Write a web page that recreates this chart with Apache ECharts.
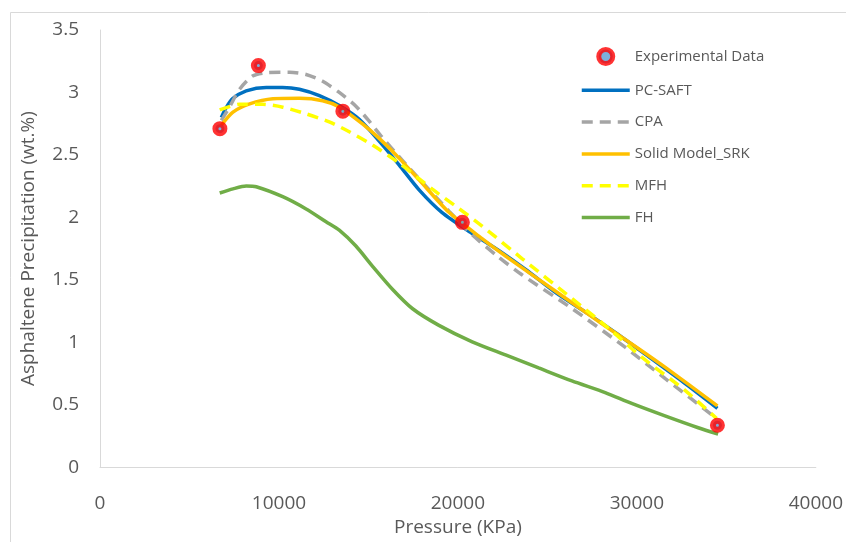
<!DOCTYPE html>
<html>
<head>
<meta charset="utf-8">
<script src="https://cdn.jsdelivr.net/npm/echarts@6/dist/echarts.min.js"></script>
<style>
  html, body { margin: 0; padding: 0; background: #fff; }
  #chart { width: 846px; height: 542px; }
</style>
</head>
<body>
<div id="chart"></div>
<script>
// Pressure (kPa) / asphaltene precipitation (wt.%) pairs
const experimental = [[6700, 2.71], [8850, 3.215], [13570, 2.85], [20250, 1.96], [34500, 0.335]];

const pcSaft = [[6780, 2.80], [7060, 2.88], [7410, 2.95], [8170, 3.013], [9290, 3.04], [10200, 3.04],
  [11140, 3.026], [12260, 2.975], [13370, 2.895], [14485, 2.785], [15600, 2.61], [16710, 2.42],
  [17830, 2.22], [19100, 2.04], [20700, 1.88], [22280, 1.735], [23900, 1.57], [25440, 1.40],
  [27300, 1.225], [28970, 1.06], [30600, 0.89], [32500, 0.69], [34500, 0.47]];

const cpa = [[6780, 2.776], [7240, 2.884], [7800, 3.026], [8520, 3.131], [9290, 3.158], [10590, 3.162],
  [11515, 3.144], [12420, 3.091], [13370, 3.0], [14300, 2.89], [15040, 2.77], [15770, 2.64],
  [16500, 2.52], [17270, 2.396], [18400, 2.22], [19500, 2.05], [20800, 1.86], [22200, 1.69],
  [23580, 1.54], [26370, 1.27], [29340, 0.96], [31570, 0.71], [34360, 0.40]];

const solidSrk = [[6780, 2.737], [7430, 2.842], [8360, 2.908], [9660, 2.949], [11140, 2.953],
  [12440, 2.934], [13370, 2.884], [14650, 2.75], [15600, 2.632], [16710, 2.474], [17830, 2.30],
  [19500, 2.04], [21350, 1.83], [22660, 1.69], [25440, 1.41], [28230, 1.13], [30080, 0.95],
  [31570, 0.80], [34500, 0.49]];

const mfh = [[6690, 2.86], [7800, 2.905], [9100, 2.905], [10210, 2.882], [11515, 2.829], [12810, 2.764],
  [13930, 2.685], [15230, 2.579], [16710, 2.435], [18570, 2.225], [20060, 2.07], [21350, 1.93],
  [23580, 1.67], [26370, 1.35], [28600, 1.09], [30270, 0.88], [32690, 0.615], [34450, 0.39]];

const fh = [[6690, 2.195], [7430, 2.228], [8170, 2.251], [8730, 2.245], [10210, 2.165], [11515, 2.067],
  [12630, 1.965], [13370, 1.897], [14300, 1.77], [15230, 1.608], [16340, 1.424], [17450, 1.27],
  [18940, 1.135], [20800, 1.003], [22660, 0.898], [24510, 0.794], [26370, 0.69], [28230, 0.597],
  [29710, 0.51], [31570, 0.41], [33430, 0.315], [34540, 0.265]];

const seriesNames = ['Experimental Data', 'PC-SAFT', 'CPA', 'Solid Model_SRK', 'MFH', 'FH'];
const xTicks = { min: 0, max: 40000, step: 10000 };
const yTicks = { min: 0, max: 3.5, step: 0.5 };

const textColor = '#595959';
const font = '"Open Sans", "Liberation Sans", sans-serif';

function curve(name, data, color, dashed) {
  return {
    name: name,
    type: 'line',
    data: data,
    smooth: 0.25,
    symbol: 'none',
    showSymbol: false,
    lineStyle: { color: color, width: 3.5, type: dashed ? [11, 7] : 'solid', cap: 'butt' },
    itemStyle: { color: color },
    z: 2
  };
}

// legend entries: the marker for the measured points, a plain line stroke for each model
const legendData = seriesNames.map((n, i) => i === 0
  ? { name: n, icon: 'circle', itemStyle: { color: '#5b9bd5', borderColor: '#ff0000', borderWidth: 5 } }
  : { name: n, itemStyle: { color: 'rgba(0,0,0,0)', borderWidth: 0, opacity: 0 } });

const chart = echarts.init(document.getElementById('chart'), null, { renderer: 'canvas' });
chart.setOption({
  backgroundColor: '#ffffff',
  animation: false,
  textStyle: { fontFamily: font },
  graphic: [{
    type: 'rect',
    shape: { x: 10.5, y: 12.5, width: 860, height: 560 },
    style: { fill: 'none', stroke: '#d9d9d9', lineWidth: 1 },
    silent: true
  }],
  grid: { left: 100, right: 28, top: 30, bottom: 68, containLabel: false },
  legend: {
    orient: 'vertical',
    left: 575,
    top: 42,
    itemWidth: 48,
    itemHeight: 14,
    itemGap: 16.8,
    lineStyle: { width: 3.5 },
    textStyle: { color: textColor, fontSize: 15, fontFamily: font, padding: [0, 0, 0, 0] },
    data: legendData
  },
  xAxis: {
    type: 'value',
    min: xTicks.min, max: xTicks.max, interval: xTicks.step,
    name: 'Pressure (KPa)',
    nameLocation: 'middle',
    nameGap: 44,
    nameTextStyle: { color: textColor, fontSize: 19, fontFamily: font },
    axisLine: { show: true, lineStyle: { color: '#d9d9d9', width: 1 } },
    axisTick: { show: false },
    splitLine: { show: false },
    axisLabel: { color: textColor, fontSize: 19, margin: 27, fontFamily: font,
      formatter: v => String(v) }
  },
  yAxis: {
    type: 'value',
    min: yTicks.min, max: yTicks.max, interval: yTicks.step,
    name: 'Asphaltene Precipitation (wt.%)',
    nameLocation: 'middle',
    nameGap: 62,
    nameTextStyle: { color: textColor, fontSize: 19, fontFamily: font },
    axisLine: { show: true, lineStyle: { color: '#d9d9d9', width: 1 } },
    axisTick: { show: false },
    splitLine: { show: false },
    axisLabel: { color: textColor, fontSize: 19, margin: 21, fontFamily: font,
      formatter: v => String(v) }
  },
  series: [
    {
      name: 'Experimental Data',
      type: 'scatter',
      data: experimental,
      symbol: 'circle',
      symbolSize: 9,
      itemStyle: { color: '#5b9bd5', borderColor: '#ff0000', borderWidth: 6 },
      z: 5
    },
    curve('PC-SAFT', pcSaft, '#0070c0', false),
    curve('CPA', cpa, '#a5a5a5', true),
    curve('Solid Model_SRK', solidSrk, '#ffc000', false),
    curve('MFH', mfh, '#ffff00', true),
    curve('FH', fh, '#70ad47', false)
  ]
});
</script>
</body>
</html>
